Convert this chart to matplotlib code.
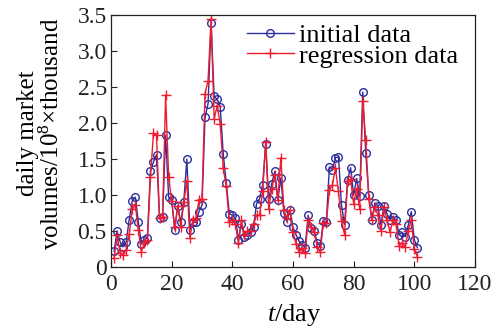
import matplotlib
matplotlib.use("Agg")
import matplotlib.pyplot as plt

plt.rcParams['font.family'] = ['Liberation Serif', 'DejaVu Serif']
plt.rcParams['mathtext.fontset'] = 'custom'
plt.rcParams['mathtext.rm'] = 'Liberation Serif'
plt.rcParams['mathtext.it'] = 'Liberation Serif:italic'

days = list(range(1, 102))
initial_data = [
    0.22, 0.50, 0.35, 0.28, 0.35, 0.66, 0.92, 0.97, 0.63, 0.32,
    0.38, 0.41, 1.34, 1.46, 1.56, 0.68, 0.69, 1.83, 0.97, 0.93,
    0.52, 0.85, 0.62, 0.91, 1.50, 0.51, 0.63, 0.62, 0.77, 0.86,
    2.08, 2.27, 3.39, 2.37, 2.33, 2.23, 1.57, 1.17, 0.74, 0.72,
    0.68, 0.38, 0.60, 0.42, 0.44, 0.48, 0.56, 0.88, 0.95, 1.14,
    1.71, 0.94, 1.16, 1.33, 0.93, 1.24, 0.75, 0.63, 0.79, 0.55,
    0.45, 0.36, 0.31, 0.27, 0.72, 0.54, 0.50, 0.34, 0.29, 0.64,
    0.62, 1.39, 1.35, 1.52, 1.53, 0.86, 0.59, 1.21, 1.38, 1.00,
    1.23, 0.98, 2.43, 1.58, 1.00, 0.66, 0.89, 0.85, 0.58, 0.85,
    0.74, 0.66, 0.70, 0.65, 0.45, 0.48, 0.42, 0.58, 0.77, 0.38,
    0.27,
]
regression_data = [
    0.12, 0.44, 0.20, 0.17, 0.24, 0.46, 0.80, 0.86, 0.52, 0.21,
    0.33, 0.37, 1.25, 1.86, 1.83, 0.68, 0.69, 2.39, 1.25, 0.92,
    0.55, 0.85, 0.56, 0.90, 1.20, 0.41, 0.65, 0.68, 0.93, 0.95,
    2.41, 2.59, 3.45, 2.06, 2.24, 1.99, 1.37, 1.12, 0.63, 0.65,
    0.60, 0.33, 0.65, 0.44, 0.50, 0.50, 0.60, 0.72, 0.72, 1.05,
    1.74, 0.81, 1.08, 1.28, 0.93, 1.52, 0.79, 0.68, 0.79, 0.49,
    0.32, 0.21, 0.26, 0.20, 0.65, 0.56, 0.49, 0.28, 0.21, 0.61,
    0.61, 1.07, 1.14, 1.37, 1.05, 0.64, 0.45, 1.19, 1.22, 0.88,
    1.09, 0.81, 2.30, 1.76, 0.95, 0.65, 0.84, 0.72, 0.50, 0.84,
    0.65, 0.49, 0.65, 0.60, 0.29, 0.34, 0.28, 0.50, 0.65, 0.25,
    0.14,
]
xticks = [0, 20, 40, 60, 80, 100, 120]
yticks = [0, 0.5, 1.0, 1.5, 2.0, 2.5, 3.0, 3.5]
ytick_labels = ['0', '0.5', '1.0', '1.5', '2.0', '2.5', '3.0', '3.5']

fig = plt.figure(figsize=(5.01, 3.29), dpi=100)
ax = fig.add_axes([0.2216, 0.1884, 0.7264, 0.7656])

ax.plot(days, initial_data, color='#2a2f9c', lw=1.0, marker='o', ms=5.5,
        mfc='none', mec='#2a2f9c', mew=1.0, label='initial data')
ax.plot(days, regression_data, color='#ee1c2e', lw=1.0, marker='+', ms=7,
        mew=1.0, label='regression data')

ax.set_xlim(0, 120)
ax.set_ylim(0, 3.5)
ax.set_xticks(xticks)
ax.set_yticks(yticks)
ax.set_yticklabels(ytick_labels)
ax.tick_params(direction='in', length=4, width=0.8, labelsize=17, pad=3,
               top=False, right=False, colors='#222222')
ax.tick_params(axis='x', pad=5)
for s in ax.spines.values():
    s.set_linewidth(0.9)
    s.set_color('#222222')

ax.set_xlabel('$t$/day', fontsize=19)
ax.xaxis.set_label_coords(0.505, -0.14)
ax.set_ylabel('daily market\nvolumes/10$^{8}$×thousand', fontsize=18,
              linespacing=1.0)
ax.yaxis.set_label_coords(-0.13, 0.53)

leg = ax.legend(loc='upper right', bbox_to_anchor=(0.962, 0.978), frameon=False,
                fontsize=19, handlelength=1.8, handletextpad=0.2,
                labelspacing=-0.1, borderaxespad=0.0, borderpad=0.1)

fig.savefig('out.png', dpi=100)
